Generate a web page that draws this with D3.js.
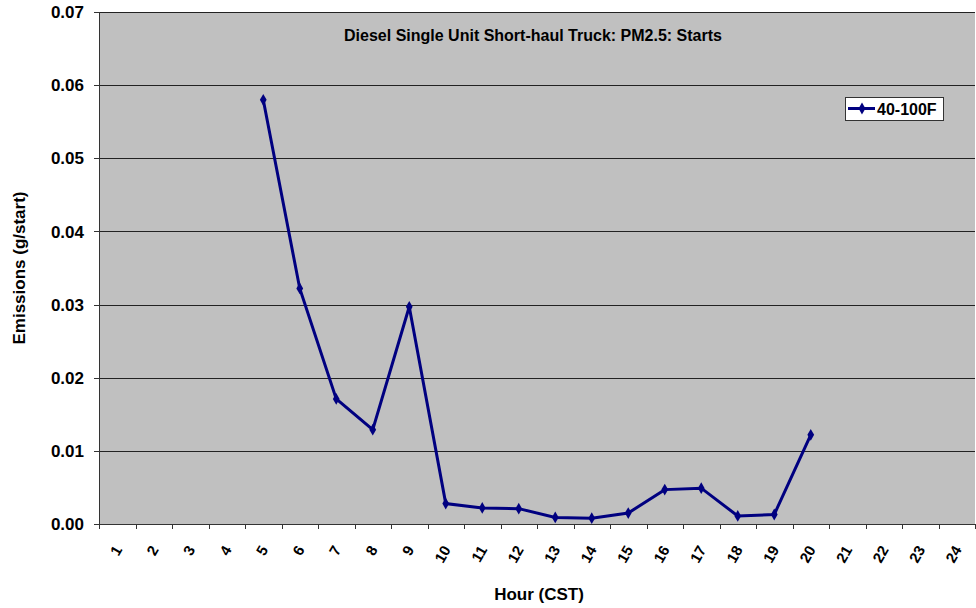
<!DOCTYPE html>
<meta charset="utf-8">
<head>
<script src="https://cdnjs.cloudflare.com/ajax/libs/d3/7.8.5/d3.min.js"></script>
<style>
body { margin:0; background:#fff; }
svg text { font-family: Arial, "Liberation Sans", sans-serif; font-weight: bold; fill:#000; }
</style>
</head>
<body>
<div id="chart"></div>
<script>

// hours shown on the x axis
var hours = d3.range(1, 25).map(String);
// emissions per start, only hours 5..20 have values
var dataHours = ['5','6','7','8','9','10','11','12','13','14','15','16','17','18','19','20'];
var emissions = [0.058, 0.0322, 0.0171, 0.0129, 0.0297, 0.0028, 0.0022, 0.0021, 0.0009, 0.0008, 0.0015, 0.0047, 0.0049, 0.0011, 0.0013, 0.0122];
var yTicks = [0, 0.01, 0.02, 0.03, 0.04, 0.05, 0.06, 0.07];

var chartTitle = 'Diesel Single Unit Short-haul Truck: PM2.5: Starts';
var seriesName = '40-100F';

var width = 976, height = 608;
var margin = {top: 12, right: 0, bottom: 84, left: 99};
var plotW = width - margin.left - margin.right - 1;
var plotH = height - margin.top - margin.bottom;

var svg = d3.select('#chart').append('svg')
    .attr('width', width)
    .attr('height', height);

var g = svg.append('g')
    .attr('transform', 'translate(' + margin.left + ',' + margin.top + ')');

var x = d3.scaleBand().domain(hours).range([0, plotW]);
var y = d3.scaleLinear().domain([0, 0.07]).range([plotH, 0]);

// grey plot area
g.append('rect')
    .attr('width', plotW).attr('height', plotH)
    .attr('fill', '#c0c0c0');

// gridlines
g.selectAll('.grid').data(yTicks.slice(1))
  .enter().append('line')
    .attr('x1', 0).attr('x2', plotW)
    .attr('y1', function(d){ return Math.round(y(d)) + 0.5; })
    .attr('y2', function(d){ return Math.round(y(d)) + 0.5; })
    .attr('stroke', '#222').attr('stroke-width', 1);

// y axis
g.append('line')
    .attr('x1', 0.5).attr('x2', 0.5).attr('y1', 0).attr('y2', plotH)
    .attr('stroke', '#333');
g.selectAll('.ytick').data(yTicks).enter().append('line')
    .attr('x1', -5).attr('x2', 0)
    .attr('y1', function(d){ return Math.round(y(d)) + 0.5; })
    .attr('y2', function(d){ return Math.round(y(d)) + 0.5; })
    .attr('stroke', '#333');
g.selectAll('.ylab').data(yTicks).enter().append('text')
    .attr('x', -15)
    .attr('y', function(d){ return y(d); })
    .attr('dy', '0.36em')
    .attr('text-anchor', 'end')
    .style('font-size', '17px')
    .text(function(d){ return d3.format('.2f')(d); });

// x axis
g.append('line')
    .attr('x1', 0).attr('x2', plotW).attr('y1', plotH + 0.5).attr('y2', plotH + 0.5)
    .attr('stroke', '#333');
var boundaries = hours.map(function(h){ return x(h); }).concat([plotW]);
g.selectAll('.xtick').data(boundaries).enter().append('line')
    .attr('x1', function(d){ return Math.round(d) + 0.5; })
    .attr('x2', function(d){ return Math.round(d) + 0.5; })
    .attr('y1', plotH).attr('y2', plotH + 5)
    .attr('stroke', '#333');
g.selectAll('.xlab').data(hours).enter().append('text')
    .attr('transform', function(d){
      return 'translate(' + (x(d) + x.bandwidth()/2 + 1) + ',' + (plotH + 23) + ') rotate(-60)';
    })
    .attr('dy', '0.35em')
    .attr('text-anchor', 'end')
    .style('font-size', '15px')
    .text(function(d){ return d; });

// line series
var pts = dataHours.map(function(h, i){ return {h: h, v: emissions[i]}; });
var line = d3.line()
    .x(function(d){ return x(d.h) + x.bandwidth()/2; })
    .y(function(d){ return y(d.v); });
g.append('path').datum(pts)
    .attr('d', line)
    .attr('fill', 'none')
    .attr('stroke', '#000080')
    .attr('stroke-width', 3);
var diamond = d3.symbol().type(d3.symbolDiamond).size(40);
g.selectAll('.pt').data(pts).enter().append('path')
    .attr('d', diamond)
    .attr('transform', function(d){
      return 'translate(' + (x(d.h) + x.bandwidth()/2) + ',' + y(d.v) + ')';
    })
    .attr('fill', '#000080');

// title
g.append('text')
    .attr('x', plotW/2 - 4).attr('y', 29)
    .attr('text-anchor', 'middle')
    .style('font-size', '16px')
    .text(chartTitle);

// legend
var leg = g.append('g').attr('transform', 'translate(' + (845 - margin.left) + ',' + (97 - margin.top) + ')');
leg.append('rect')
    .attr('x', 0.5).attr('y', 0.5).attr('width', 98).attr('height', 23)
    .attr('fill', '#fff').attr('stroke', '#333');
leg.append('line')
    .attr('x1', 3).attr('x2', 30).attr('y1', 11.5).attr('y2', 11.5)
    .attr('stroke', '#000080').attr('stroke-width', 3);
leg.append('path').attr('d', diamond)
    .attr('transform', 'translate(17,11.5)')
    .attr('fill', '#000080');
leg.append('text')
    .attr('x', 32).attr('y', 18)
    .style('font-size', '16px')
    .text(seriesName);

// axis titles
svg.append('text')
    .attr('x', 539).attr('y', 600)
    .attr('text-anchor', 'middle')
    .style('font-size', '17px')
    .text('Hour (CST)');
svg.append('text')
    .attr('transform', 'translate(25,268) rotate(-90)')
    .attr('text-anchor', 'middle')
    .style('font-size', '17px')
    .text('Emissions (g/start)');

</script>
</body>
